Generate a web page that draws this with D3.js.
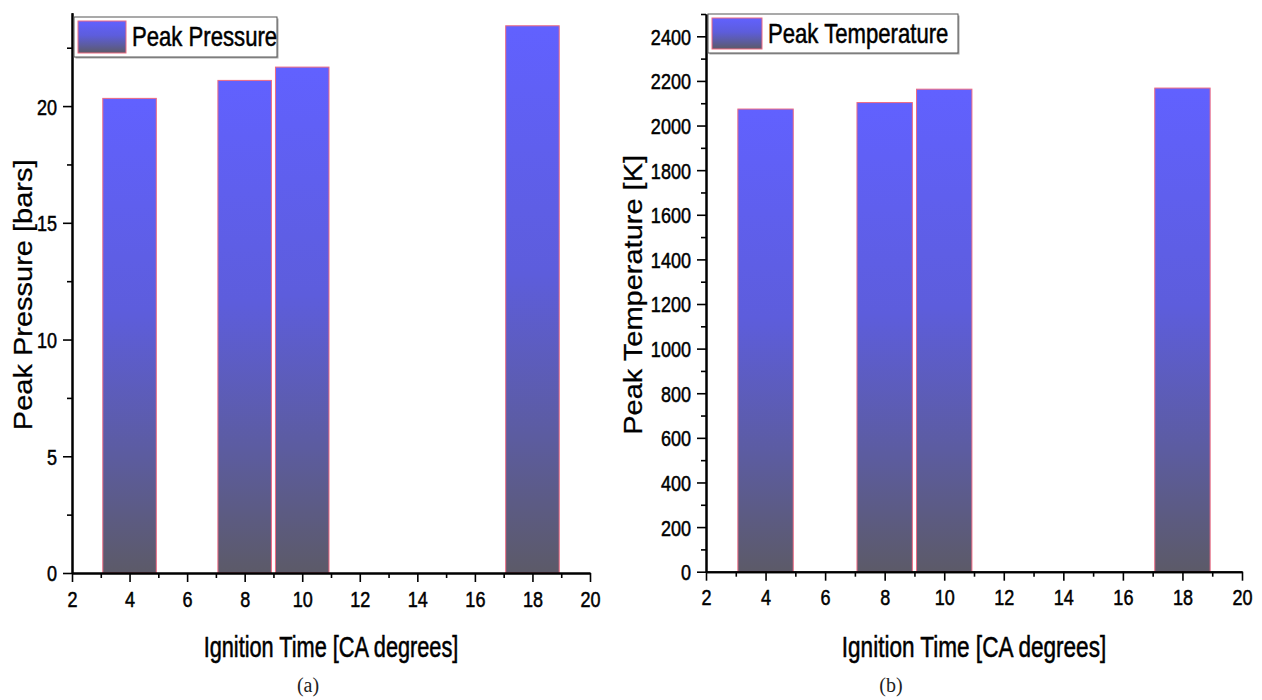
<!DOCTYPE html>
<html>
<head>
<meta charset="utf-8">
<script src="https://cdn.jsdelivr.net/npm/d3@7"></script>
<style>
  html, body { margin: 0; padding: 0; background: #fff; }
  svg { display: block; }
  text { font-family: "Liberation Sans", Arial, sans-serif; }
  text.caption { font-family: "Liberation Serif", "Times New Roman", serif; }
  .cond { stroke: #000; stroke-width: 0.5px; }
</style>
</head>
<body>
<svg id="fig" width="1262" height="700"></svg>
<script>
// Ignition timing sweep: peak in-cylinder pressure and temperature
const ignitionTime = [4, 8, 10, 18];
const peakPressure = [20.33, 21.1, 21.67, 23.44];
const peakTemperature = [2074, 2103, 2163, 2168];

const xMajorTicks = [2, 4, 6, 8, 10, 12, 14, 16, 18, 20];
const xMinorTicks = [3, 5, 7, 9, 11, 13, 15, 17, 19];
const pressureMajorTicks = [0, 5, 10, 15, 20];
const pressureMinorTicks = [2.5, 7.5, 12.5, 17.5, 22.5];
const temperatureMajorTicks = [0, 200, 400, 600, 800, 1000, 1200, 1400, 1600, 1800, 2000, 2200, 2400];
const temperatureMinorTicks = [100, 300, 500, 700, 900, 1100, 1300, 1500, 1700, 1900, 2100, 2300, 2500];

const svg = d3.select("#fig");
const defs = svg.append("defs");

// Vertical blue-to-slate fill used by every bar and legend swatch
const grad = defs.append("linearGradient")
  .attr("id", "barFill").attr("x1", 0).attr("y1", 0).attr("x2", 0).attr("y2", 1);
[[0, "#6161ff"], [0.45, "#5d5ddc"], [0.75, "#5c5ca0"], [1, "#5c5a68"]].forEach(([o, c]) =>
  grad.append("stop").attr("offset", o).attr("stop-color", c));

const BAR_HALF = 0.93;
const CONDENSE = 0.82;   // horizontal squeeze giving a narrow sans face

// Turn a positioned text into a condensed one: its x offset moves into the transform
function condense(sel, sy = 1) {
  sel.each(function () {
    const t = d3.select(this);
    const x = +t.attr("x") || 0;
    const y = +t.attr("y") || 0;
    t.attr("x", 0).attr("y", 0)
      .attr("transform", `translate(${x},${y}) scale(${CONDENSE},${sy})`)
      .classed("cond", true);
  });
}

function panel(cfg) {
  const g = svg.append("g");
  const x = d3.scaleLinear().domain([2, 20]).range(cfg.xRange);
  const y = d3.scaleLinear().domain(cfg.yDomain).range(cfg.yRange);

  // bars
  g.selectAll("rect.bar").data(cfg.values.map((v, i) => ({ t: ignitionTime[i], v })))
    .join("rect").attr("class", "bar")
    .attr("x", d => x(d.t - BAR_HALF))
    .attr("width", d => x(d.t + BAR_HALF) - x(d.t - BAR_HALF))
    .attr("y", d => y(d.v))
    .attr("height", d => y(0) - y(d.v))
    .attr("fill", "url(#barFill)")
    .attr("stroke", "#ee6a82").attr("stroke-width", 1);

  // x axis: minor then major ticks
  const y0 = y(0);
  const xMinor = g.append("g").attr("transform", `translate(0,${y0})`)
    .call(d3.axisBottom(x).tickValues(xMinorTicks).tickSize(5).tickSizeOuter(0).tickFormat(""));
  const xMajor = g.append("g").attr("transform", `translate(0,${y0})`)
    .call(d3.axisBottom(x).tickValues(xMajorTicks).tickSize(9).tickSizeOuter(0).tickPadding(9).tickFormat(d3.format("d")));

  // y axis
  const x0 = cfg.xRange[0];
  const yMinor = g.append("g").attr("transform", `translate(${x0},0)`)
    .call(d3.axisLeft(y).tickValues(cfg.yMinor).tickSize(5).tickSizeOuter(0).tickFormat(""));
  const yMajor = g.append("g").attr("transform", `translate(${x0},0)`)
    .call(d3.axisLeft(y).tickValues(cfg.yMajor).tickSize(9).tickSizeOuter(0).tickPadding(6).tickFormat(d3.format("d")));

  [xMinor, xMajor, yMinor, yMajor].forEach(a => {
    a.attr("font-family", null);
    a.selectAll("path.domain").attr("stroke", "#000").attr("stroke-width", 2);
    a.selectAll(".tick line").attr("stroke", "#000").attr("stroke-width", 1.6);
    a.selectAll("text").attr("font-size", 22).attr("fill", "#000");
  });
  xMajor.selectAll("text").attr("dy", "0.71em");
  yMajor.selectAll("text").attr("dy", "0.36em");
  condense(xMajor.selectAll("text"));
  condense(yMajor.selectAll("text"));

  // legend
  const L = cfg.legend;
  g.append("rect").attr("x", L.x + 1.5).attr("y", L.y + 1.5).attr("width", L.w).attr("height", L.h)
    .attr("fill", "#a8a8a8");
  g.append("rect").attr("x", L.x).attr("y", L.y).attr("width", L.w).attr("height", L.h)
    .attr("fill", "#fff").attr("stroke", "#555").attr("stroke-width", 1);
  g.append("rect").attr("x", L.x + 4).attr("y", L.y + 4).attr("width", L.sw).attr("height", L.h - 8)
    .attr("fill", "url(#barFill)").attr("stroke", "#ee6a82").attr("stroke-width", 1);
  g.append("text").attr("x", L.x + L.sw + 10).attr("y", L.y + 29)
    .attr("font-size", 27).attr("fill", "#000").text(cfg.name)
    .call(condense);

  // axis titles
  const xc = (cfg.xRange[0] + cfg.xRange[1]) / 2;
  g.append("text").attr("text-anchor", "middle").attr("x", xc).attr("y", cfg.xTitleY)
    .attr("font-size", cfg.xTitleSize).attr("fill", "#000").text("Ignition Time [CA degrees]")
    .call(condense, 1.08);

  const yc = (cfg.yRange[0] + cfg.yRange[1]) / 2 + 2;
  g.append("text").attr("text-anchor", "middle")
    .attr("transform", `translate(${cfg.yTitleX},${yc}) rotate(-90) scale(1,0.86)`)
    .attr("font-size", 29).attr("fill", "#000")
    .attr("stroke", "#000").attr("stroke-width", 0.3).text(cfg.yTitle);

  // panel caption
  g.append("text").attr("class", "caption").attr("text-anchor", "middle")
    .attr("x", cfg.captionX).attr("y", 692)
    .attr("font-size", 20).attr("fill", "#222").text(cfg.caption);
}

panel({
  name: "Peak Pressure", values: peakPressure,
  xRange: [72, 590], yDomain: [0, 24], yRange: [573, 12.7],
  yMajor: pressureMajorTicks, yMinor: pressureMinorTicks,
  legend: { x: 74, y: 17, w: 203, h: 40, sw: 48 },
  xTitleY: 657, xTitleSize: 26.5,
  yTitle: "Peak Pressure [bars]", yTitleX: 32,
  caption: "(a)", captionX: 308
});

panel({
  name: "Peak Temperature", values: peakTemperature,
  xRange: [706, 1242], yDomain: [0, 2500], yRange: [571.7, 14],
  yMajor: temperatureMajorTicks, yMinor: temperatureMinorTicks,
  legend: { x: 708, y: 14, w: 250, h: 39, sw: 50 },
  xTitleY: 657, xTitleSize: 27.5,
  yTitle: "Peak Temperature [K]", yTitleX: 642,
  caption: "(b)", captionX: 891
});
</script>
</body>
</html>
